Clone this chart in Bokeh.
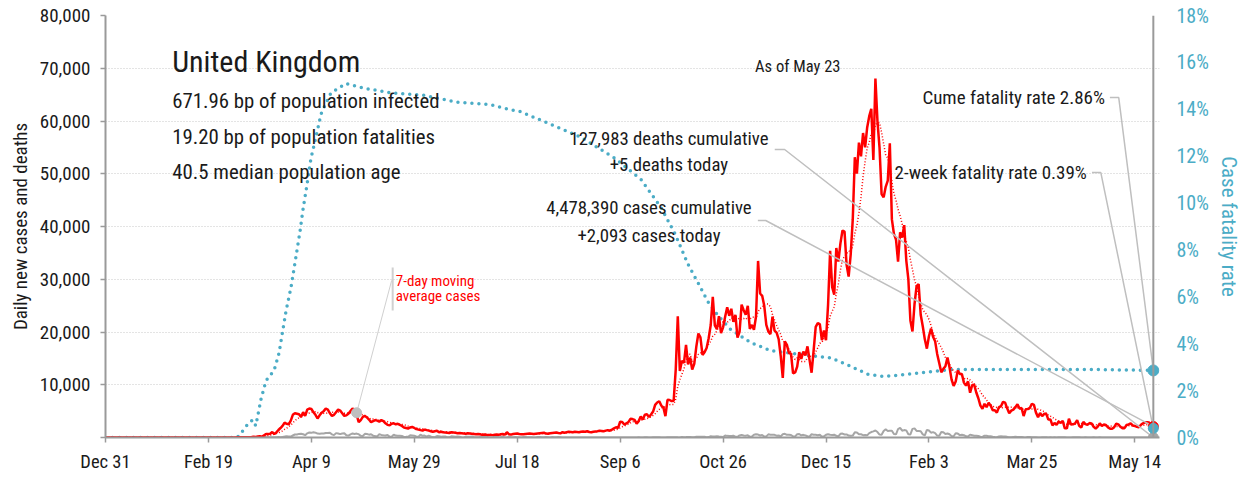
import numpy as np
import pandas as pd
from bokeh.plotting import figure
from bokeh.models import (Range1d, LinearAxis, FixedTicker, NumeralTickFormatter,
                          PrintfTickFormatter, Label, Span)
from bokeh.embed import file_html
from bokeh.resources import INLINE

# ---------------- data ----------------
# daily new cases, Dec 31 2019 .. May 23 2021
cases_2019_12 = [0]
cases_2020_01 = [0, 0, 0, 0, 0, 0, 0, 0, 0, 0, 0, 0, 0, 0, 0, 0, 0, 0, 0, 0,
                 0, 0, 0, 0, 0, 0, 0, 0, 0, 0, 2]
cases_2020_02 = [0, 0, 0, 0, 0, 1, 0, 0, 0, 4, 0, 1, 0, 0, 0, 0, 0, 0, 0, 0,
                 0, 0, 0, 4, 0, 0, 2, 5, 3]
cases_2020_03 = [13, 4, 11, 34, 29, 46, 46, 65, 50, 52, 83, 134, 117, 200, 251, 152,
                 407, 676, 643, 714, 1035, 665, 967, 1427, 1800, 2200, 2800, 2600,
                 2500, 3200, 4300]
cases_2020_04 = [4600, 4500, 4400, 3900, 4800, 4100, 5300, 5500, 5400, 4800,
                 4300, 3600, 4200, 4700, 5000, 5500, 5300, 4600, 4100, 4300,
                 4800, 5300, 5100, 4600, 4100, 4200, 4500, 5000, 5500, 5200]
cases_2020_05 = [4300, 2900, 3300, 3900, 4100, 3800, 3400, 2900, 3100, 3300,
                 3200, 3000, 3300, 3100, 2700, 2400, 2300, 2600, 2700, 2500,
                 2600, 2400, 2200, 1900, 1800, 1700, 1900, 2000, 1800, 1600, 1500]
cases_2020_06 = [1400, 1300, 1500, 1400, 1300, 1200, 1100, 1200, 1300, 1000,
                 1100, 1000, 950, 900, 850, 1000, 950, 900, 800, 850,
                 800, 750, 700, 800, 750, 700, 650, 600, 650, 600]
cases_2020_07 = [500, 550, 500, 450, 500, 450, 500, 550, 500, 600,
                 650, 550, 1000, 600, 550, 650, 700, 750, 650, 600,
                 600, 650, 700, 750, 700, 650, 700, 750, 800, 850, 900]
cases_2020_08 = [750, 700, 800, 850, 900, 950, 850, 800, 1000, 900,
                 1000, 1100, 1050, 1000, 1100, 1050, 1000, 1100, 1150, 1100,
                 1200, 1050, 1000, 1100, 1150, 1200, 1300, 1250, 1200, 1300, 1400]
cases_2020_09 = [1295, 1508, 1735, 1940, 1813, 2988, 2948, 2460, 2659, 2919,
                 3539, 3497, 3330, 2621, 3105, 3991, 3395, 4322, 4422, 3899,
                 4368, 4926, 6178, 6634, 6874, 6042, 5693, 4044, 7143, 7108]
cases_2020_10 = [6914, 6968, 12872, 22961, 12594, 14542, 14162, 17540, 13864, 15166,
                 12872, 13972, 17234, 19724, 18980, 15650, 16171, 16982, 18804, 21331,
                 26688, 21242, 20530, 23012, 19790, 20890, 22885, 24701, 23065, 24405, 21915]
cases_2020_11 = [23254, 18950, 20018, 25177, 24141, 23287, 24957, 20572, 21350, 20412,
                 22950, 33470, 27301, 26860, 24962, 21363, 20051, 19609, 22915, 20252,
                 19875, 18662, 15450, 11299, 18213, 17555, 16022, 15871, 12155, 12330]
cases_2020_12 = [13430, 16170, 14879, 16298, 15539, 17272, 14718, 12282, 16578, 20964,
                 21672, 21502, 18447, 20263, 18450, 25161, 35383, 28507, 27052, 35928,
                 33364, 36804, 39237, 39036, 32725, 30501, 34693, 41385, 53135, 50023, 55892]
cases_2021_01 = [53285, 57725, 54990, 58784, 60916, 62322, 52618, 68053, 59937, 54940,
                 46165, 45533, 47525, 48682, 55761, 41346, 38598, 37535, 33355, 38905,
                 37892, 40261, 33552, 30004, 22195, 20089, 25308, 28680, 29079, 23275, 21088]
cases_2021_02 = [18607, 16840, 19202, 20634, 19114, 18262, 15845, 14104, 12364, 13013,
                 13494, 15144, 13308, 10972, 9765, 10625, 12718, 12057, 12027, 10406,
                 9834, 10641, 8489, 9938, 9985, 8523, 7434, 6035]
cases_2021_03 = [5455, 6391, 5766, 6573, 6040, 5177, 5177, 4712, 5766, 5926,
                 6753, 6609, 5534, 4618, 5089, 5294, 5758, 6303, 5485, 5587,
                 4068, 5342, 5379, 5605, 6397, 6187, 4715, 3862, 4654, 4052, 4479]
cases_2021_04 = [4478, 3402, 3423, 2297, 2762, 2379, 3030, 2763, 3150, 1730,
                 1730, 3568, 2472, 2491, 2672, 3283, 2206, 1882, 2963, 2524,
                 2396, 2729, 2678, 2026, 1712, 2064, 2685, 2166, 2445, 2381]
cases_2021_05 = [1907, 1671, 1649, 1946, 2613, 2490, 2047, 1770, 1770, 2357,
                 2474, 2657, 2284, 2193, 2027, 1926, 2412, 2696, 2874, 2896,
                 2829, 2235, 2093]

# daily deaths, same days
deaths_2019_12 = [0]
deaths_2020_01 = [0, 0, 0, 0, 0, 0, 0, 0, 0, 0, 0, 0, 0, 0, 0, 0, 0, 0, 0, 0,
                  0, 0, 0, 0, 0, 0, 0, 0, 0, 0, 0]
deaths_2020_02 = [0, 0, 0, 0, 0, 0, 0, 0, 0, 0, 0, 0, 0, 0, 0, 0, 0, 0, 0, 0,
                  0, 0, 0, 0, 0, 0, 0, 0, 0]
deaths_2020_03 = [0, 0, 0, 0, 1, 1, 0, 1, 1, 1, 2, 2, 1, 11, 14, 20, 16, 33, 40, 33,
                  56, 48, 54, 87, 41, 115, 181, 260, 209, 180, 381]
deaths_2020_04 = [563, 569, 684, 708, 621, 439, 786, 938, 881, 980,
                  917, 737, 717, 778, 761, 861, 847, 888, 596, 449,
                  828, 763, 638, 768, 813, 413, 360, 586, 765, 674]
deaths_2020_05 = [739, 621, 315, 288, 693, 649, 539, 626, 346, 268,
                  210, 627, 494, 428, 384, 468, 170, 160, 545, 363,
                  338, 351, 282, 118, 121, 134, 412, 377, 324, 215, 113]
deaths_2020_06 = [556, 324, 359, 176, 357, 204, 77, 55, 286, 245,
                  151, 202, 181, 36, 38, 233, 184, 135, 173, 128,
                  43, 15, 171, 154, 149, 186, 100, 36, 25, 154]
deaths_2020_07 = [176, 89, 137, 67, 22, 16, 155, 126, 85, 48,
                  148, 21, 11, 138, 85, 66, 114, 40, 28, 11,
                  110, 79, 30, 64, 42, 14, 7, 119, 83, 38, 45]
deaths_2020_08 = [74, 61, 8, 89, 65, 49, 98, 55, 8, 8,
                  10, 20, 18, 11, 3, 3, 4, 12, 16, 6,
                  2, 18, 0, 2, 16, 16, 12, 9, 1, 1, 2]
deaths_2020_09 = [3, 3, 10, 12, 2, 2, 3, 8, 8, 14,
                  6, 9, 5, 9, 27, 20, 21, 27, 27, 18,
                  11, 37, 37, 40, 34, 17, 17, 13, 71, 71]
deaths_2020_10 = [59, 66, 49, 33, 19, 76, 70, 77, 87, 81,
                  65, 50, 143, 137, 138, 136, 150, 67, 80, 241,
                  191, 189, 224, 174, 151, 102, 367, 310, 280, 274, 326]
deaths_2020_11 = [162, 136, 397, 492, 378, 355, 413, 156, 194, 532,
                  595, 563, 376, 462, 168, 213, 598, 529, 501, 511,
                  341, 398, 206, 608, 696, 498, 521, 479, 215, 205]
deaths_2020_12 = [603, 648, 414, 504, 397, 231, 189, 616, 533, 516,
                  424, 519, 144, 232, 506, 612, 532, 489, 534, 326,
                  215, 691, 744, 570, 570, 357, 316, 357, 981, 964, 613]
deaths_2021_01 = [613, 445, 454, 407, 830, 1041, 1162, 1325, 1035, 563,
                  529, 1243, 1564, 1248, 1280, 1295, 671, 599, 1610, 1820,
                  1290, 1401, 1348, 610, 592, 1631, 1725, 1239, 1245, 1200, 587]
deaths_2021_02 = [406, 1449, 1322, 915, 1014, 828, 373, 333, 1052, 1001,
                  678, 758, 621, 258, 230, 799, 738, 454, 533, 445,
                  215, 178, 548, 442, 323, 345, 290, 144]
deaths_2021_03 = [104, 343, 315, 242, 236, 158, 82, 65, 190, 231,
                  175, 181, 121, 52, 64, 110, 141, 95, 101, 96,
                  33, 17, 112, 98, 70, 63, 58, 19, 23, 56, 45]
deaths_2021_04 = [52, 10, 58, 10, 26, 20, 45, 53, 60, 40,
                  7, 13, 23, 33, 34, 36, 32, 10, 4, 33,
                  22, 16, 18, 32, 11, 17, 29, 16, 23, 15]
deaths_2021_05 = [15, 1, 1, 4, 13, 8, 11, 10, 4, 4,
                  7, 9, 11, 17, 7, 4, 5, 7, 9, 10, 12, 6, 5]

# case fatality rate (%), read at day offsets from Dec 31 2019
cfr_day = [0, 64, 66, 68, 70, 71.5, 73, 75.6, 78, 81.9, 84.3, 85.8, 87.7, 90.1, 92.5,
           94.5, 95.9, 97.9, 99.8, 102.2, 104.7, 109.5, 116.8, 125.5, 138.6, 154.6,
           170.5, 187, 195.7, 201.6, 215.1, 231.1, 247.6, 260.2, 269.9, 276.6, 282.9,
           287.8, 292.6, 297.5, 303.8, 313.5, 323.2, 332.8, 341.1, 352.2, 360.5, 370.2,
           378.4, 389.5, 400.7, 410.4, 481.6, 509]
cfr_pct = [0, 0, 0.2, 0.45, 0.65, 0.75, 0.5, 1.66, 2.43, 2.86, 3.6, 4.4, 5.4, 6.4, 7.7,
           8.8, 9.7, 10.8, 11.9, 12.8, 13.8, 14.7, 15.1, 14.9, 14.7, 14.6,
           14.3, 14.2, 14.0, 13.9, 13.4, 12.8, 11.9, 11.0, 9.8, 8.7, 7.4,
           6.6, 5.8, 5.2, 4.6, 4.05, 3.7, 3.6, 3.5, 3.4, 3.1, 2.7,
           2.6, 2.7, 2.8, 2.9, 2.9, 2.86]
two_week_cfr = 0.39

x_tick_labels = ["Dec 31", "Feb 19", "Apr 9", "May 29", "Jul 18", "Sep 6",
                 "Oct 26", "Dec 15", "Feb 3", "Mar 25", "May 14"]

country = "United Kingdom"
stats_lines = ["671.96 bp of population infected",
               "19.20 bp of population fatalities",
               "40.5 median population age"]
as_of = "As of May 23"
deaths_text = ["127,983 deaths cumulative", "+5 deaths today"]
cases_text = ["4,478,390 cases cumulative", "+2,093 cases today"]
cume_text = "Cume fatality rate 2.86%"
twoweek_text = "2-week fatality rate 0.39%"
ma_text = ["7-day moving", "average cases"]

# ---------------- build ----------------
cases = (cases_2019_12 + cases_2020_01 + cases_2020_02 + cases_2020_03 + cases_2020_04
         + cases_2020_05 + cases_2020_06 + cases_2020_07 + cases_2020_08 + cases_2020_09
         + cases_2020_10 + cases_2020_11 + cases_2020_12 + cases_2021_01 + cases_2021_02
         + cases_2021_03 + cases_2021_04 + cases_2021_05)
deaths = (deaths_2019_12 + deaths_2020_01 + deaths_2020_02 + deaths_2020_03 + deaths_2020_04
          + deaths_2020_05 + deaths_2020_06 + deaths_2020_07 + deaths_2020_08 + deaths_2020_09
          + deaths_2020_10 + deaths_2020_11 + deaths_2020_12 + deaths_2021_01 + deaths_2021_02
          + deaths_2021_03 + deaths_2021_04 + deaths_2021_05)
days = list(range(len(cases)))
ma7 = pd.Series(cases, dtype=float).rolling(7, min_periods=1).mean().tolist()
last = days[-1]

FONT = "Roboto Condensed, DejaVu Sans Condensed, Roboto, sans-serif"
RED = "#FF0000"
TEAL = "#4BACC6"
GREY = "#A6A6A6"
AXIS = "#9A9A9A"
LEAD = "#BFBFBF"
INK = "#1A1A1A"

p = figure(width=1243, height=478, output_backend="svg", toolbar_location=None,
           x_range=Range1d(0, 512), y_range=Range1d(0, 80000),
           min_border_left=105, min_border_right=79, min_border_top=15,
           min_border_bottom=41)
p.outline_line_color = None
p.background_fill_color = "white"
p.extra_y_ranges = {"cfr": Range1d(0, 18)}

# axes
xax = p.xaxis[0]
xax.ticker = FixedTicker(ticks=[50 * i for i in range(len(x_tick_labels))])
xax.major_label_overrides = {50 * i: lab for i, lab in enumerate(x_tick_labels)}
yax = p.yaxis[0]
yax.ticker = FixedTicker(ticks=[10000 * i for i in range(0, 9)])
yax.formatter = NumeralTickFormatter(format="0,0")
yax.major_label_overrides = {0: ""}
yax.axis_label = "Daily new cases and deaths"

rax = LinearAxis(y_range_name="cfr", ticker=FixedTicker(ticks=list(range(0, 19, 2))),
                 formatter=PrintfTickFormatter(format="%d%%"),
                 axis_label="Case fatality rate")
p.add_layout(rax, "right")

for ax in (xax, yax, rax):
    ax.axis_line_color = AXIS
    ax.axis_line_width = 2
    ax.major_tick_line_color = AXIS
    ax.major_tick_line_width = 1.5
    ax.major_tick_out = 5
    ax.major_tick_in = 0
    ax.minor_tick_line_color = None
    ax.major_label_text_font = FONT
    ax.major_label_text_font_size = "19px"
    ax.major_label_text_color = INK
    ax.axis_label_text_font = FONT
    ax.axis_label_text_font_size = "19px"
    ax.axis_label_text_font_style = "normal"
    ax.axis_label_text_color = INK
xax.major_label_text_font_size = "18.5px"
xax.major_label_standoff = 8
rax.axis_line_color = None
rax.major_tick_line_color = None
rax.major_label_text_color = TEAL
rax.major_label_text_font_size = "20px"
rax.axis_label_text_color = TEAL
rax.axis_label_text_font_size = "21px"
rax.major_label_standoff = 12
yax.major_label_standoff = 10

p.xgrid.grid_line_color = None
p.ygrid.grid_line_color = "#C8C8C8"
p.ygrid.grid_line_dash = "1 2"
p.ygrid.grid_line_width = 1

# right axis line at the last data day
p.add_layout(Span(location=last, dimension="height", line_color=AXIS, line_width=2))

# series
p.line(days, deaths, line_color=GREY, line_width=2)
p.line(cfr_day, cfr_pct, y_range_name="cfr", line_color=TEAL, line_width=3.5,
       line_dash="0 7", line_cap="round")
p.line(days, ma7, line_color=RED, line_width=1.5, line_dash="1 2")
p.line(days, cases, line_color=RED, line_width=2.5)

# leader lines
p.line([325.1, 329.9, last], [54600, 54600, deaths[-1]], line_color=LEAD, line_width=1.5)
p.line([316.9, 320.7, last], [41140, 41140, cases[-1]], line_color=LEAD, line_width=1.5)
p.line([487.9, 492.2, last], [14.5, 14.5, cfr_pct[-1]], y_range_name="cfr",
       line_color=LEAD, line_width=1.5)
p.line([479.2, 483.5, last], [11.3, 11.3, two_week_cfr], y_range_name="cfr",
       line_color=LEAD, line_width=1.5)

label_day = 122
p.line([139.5, 139.5], [24080, 32240], line_color="#D0D0D0", line_width=2)
p.line([139, label_day], [29770, ma7[label_day]], line_color="#D0D0D0", line_width=1)
p.scatter([label_day], [ma7[label_day]], size=10, color=LEAD)

# end markers
p.scatter([last], [cases[-1]], size=10, color=RED)
p.scatter([last], [cfr_pct[-1]], y_range_name="cfr", size=11, color=TEAL)
p.scatter([last], [deaths[-1]], size=10, color=GREY)
p.scatter([last], [two_week_cfr], y_range_name="cfr", size=10, color=TEAL)

# texts
def lab(x, y, text, size, align="left", color=INK, rng="default"):
    p.add_layout(Label(x=x, y=y, text=text, text_font=FONT, text_font_size=size,
                       text_align=align, text_baseline="middle", text_color=color,
                       y_range_name=rng))

lab(32.4, 71300, country, "30px")
for i, t in enumerate(stats_lines):
    lab(32.4, 63700 - 6650 * i, t, "20.8px")
lab(357, 70340, as_of, "16.5px", align="right")
lab(273.7, 56500, deaths_text[0], "18.8px", align="center")
lab(273.7, 51570, deaths_text[1], "18.8px", align="center")
lab(264, 43420, cases_text[0], "18.8px", align="center")
lab(264, 38110, cases_text[1], "18.8px", align="center")
lab(485.5, 64460, cume_text, "19px", align="right")
lab(476.7, 50240, twoweek_text, "19px", align="right")
lab(141, 29580, ma_text[0], "15px", color=RED)
lab(141, 26730, ma_text[1], "15px", color=RED)

open("out.html", "w").write(file_html(p, INLINE))
